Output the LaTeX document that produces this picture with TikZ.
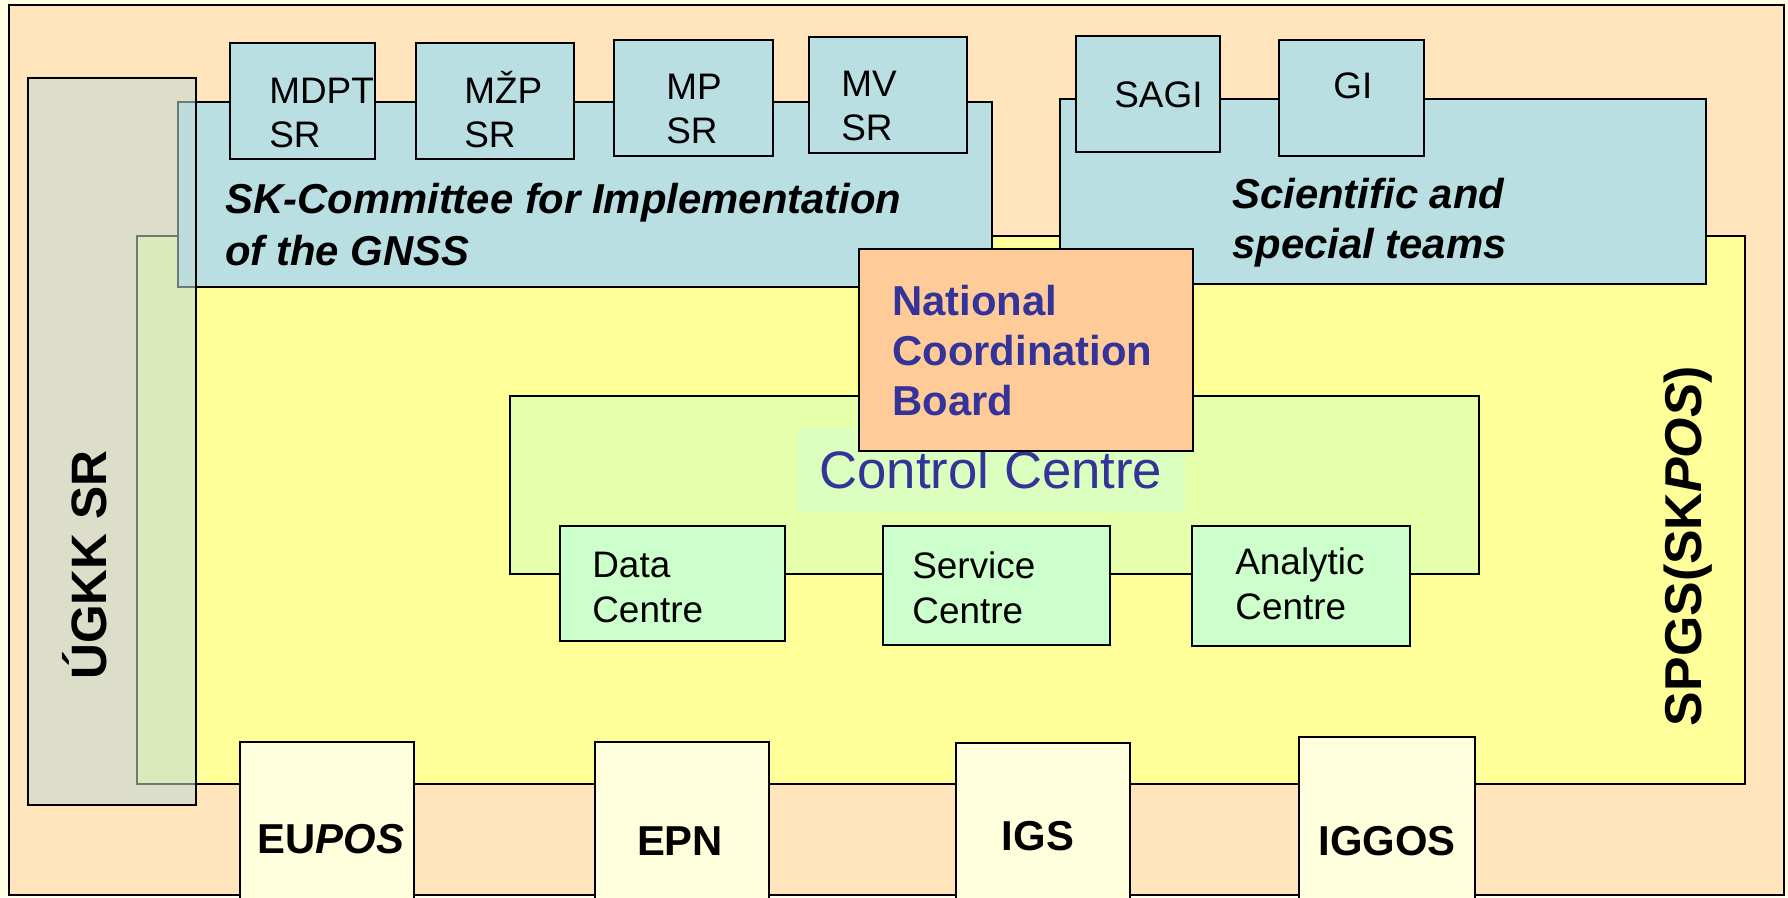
\documentclass[tikz,border=0pt]{standalone}
\usepackage{fontspec}
\setmainfont{Liberation Sans}
\usetikzlibrary{fit}

\definecolor{paper}{RGB}{255,255,226}
\definecolor{peach}{RGB}{255,228,188}
\definecolor{spgsyellow}{RGB}{255,255,153}
\definecolor{commblue}{RGB}{185,223,227}
\definecolor{ncborange}{RGB}{255,204,153}
\definecolor{ctrlgreen}{RGB}{229,255,170}
\definecolor{ctrltag}{RGB}{218,255,190}
\definecolor{centregreen}{RGB}{204,255,204}
\definecolor{extyellow}{RGB}{255,255,221}
\definecolor{ugkkgrey}{RGB}{194,219,214}
\definecolor{navy}{RGB}{51,51,153}

\begin{document}
\begin{tikzpicture}[x=0.02cm,y=-0.02cm]
			\tikzstyle{box}=[draw,line width=1pt,inner sep=0pt]
			\tikzstyle{extbox}=[draw,line width=0.6pt,inner sep=0pt,fill=extyellow]
			\tikzstyle{lbl}=[inner sep=0pt,align=left,anchor=base west]
			\tikzstyle{small}=[lbl,font=\fontsize{21}{25}\selectfont]
			\tikzstyle{title}=[lbl,font=\fontsize{23.8}{29.5}\selectfont\bfseries\itshape]
			\tikzstyle{ext}=[inner sep=0pt,anchor=base,font=\fontsize{23.8}{28}\selectfont\bfseries]
			\useasboundingbox (0,0) rectangle (1788,897);
			\fill[paper] (0,0) rectangle (1788,897);
			% frame and the yellow SPGS field
			\node[box,fill=peach,fit={(9,5) (1784,895)}] (frame) {};
			\node[box,fill=spgsyellow,fit={(137,236) (1745,784)}] (spgs) {};
			% committee and teams (base = last line)
			\node[box,fill=commblue,fit={(178,102) (992,287)}] (committee) {};
			\node[box,fill=commblue,fit={(1060,99) (1706,284)}] (teams) {};
			\node[box,fill=commblue,fit={(230,43) (375,159)}] (mdpt) {};
			\node[box,fill=commblue,fit={(416,43) (574,159)}] (mzp) {};
			\node[box,fill=commblue,fit={(614,40) (773,156)}] (mp) {};
			\node[box,fill=commblue,fit={(809,37) (967,153)}] (mv) {};
			\node[box,fill=commblue,fit={(1076,36) (1220,152)}] (sagi) {};
			\node[box,fill=commblue,fit={(1279,40) (1424,156)}] (gi) {};
			\node[small] (mdpt-t) at (269,147) {MDPT\\SR};
			\node[small] (mzp-t) at (464,147) {MŽP\\SR};
			\node[small] (mp-t) at (666,143) {MP\\SR};
			\node[small] (mv-t) at (841,140) {MV\\SR};
			\node[small] (sagi-t) at (1114,107) {SAGI};
			\node[small] (gi-t) at (1333,98) {GI};
			\node[title] (committee-t) at (225,265) {SK-Committee for Implementation\\of the GNSS};
			\node[title,font=\fontsize{23.8}{28.3}\selectfont\bfseries\itshape] (teams-t) at (1232,258) {Scientific and\\special teams};
			% control centre
			\node[box,fill=ctrlgreen,fit={(510,396) (1479,574)}] (control) {};
			\node[fill=ctrltag,inner sep=0pt,minimum width=7.76cm,minimum height=1.68cm,
				text=navy,font=\fontsize{30}{34}\selectfont] (control-t) at (991,470) {Control Centre};
			\node[box,fill=ncborange,fit={(859,249) (1193,451)}] (ncb) {};
			\node[lbl,text=navy,font=\fontsize{23.8}{28.3}\selectfont\bfseries] (ncb-t) at (892,415) {National\\Coordination\\Board};
			\node[box,fill=centregreen,fit={(560,526) (785,641)}] (data) {};
			\node[box,fill=centregreen,fit={(883,526) (1110,645)}] (service) {};
			\node[box,fill=centregreen,fit={(1192,526) (1410,646)}] (analytic) {};
			\node[small,font=\fontsize{21}{25.5}\selectfont] (data-t) at (592,622) {Data\\Centre};
			\node[small,font=\fontsize{21}{25.5}\selectfont] (service-t) at (912,623) {Service\\Centre};
			\node[small,font=\fontsize{21}{25.5}\selectfont] (analytic-t) at (1235,619) {Analytic\\Centre};
			% outside partners
			\node[extbox,fit={(240,742) (414,905)}] (eupos) {};
			\node[extbox,fit={(595,742) (769,905)}] (epn) {};
			\node[extbox,fit={(956,743) (1130,905)}] (igs) {};
			\node[extbox,fit={(1299,737) (1475,905)}] (iggos) {};
			\node[ext] (eupos-t) at (331,853) {EU\textit{POS}};
			\node[ext] (epn-t) at (680,855) {EPN};
			\node[ext] (igs-t) at (1038,850) {IGS};
			\node[ext] (iggos-t) at (1387,855) {IGGOS};
			% UGKK over everything
			\node[box,fill=ugkkgrey,fill opacity=0.56,fit={(28,78) (196,805)}] (ugkk) {};
			\node[rotate=90,inner sep=0pt,font=\fontsize{28.3}{32}\selectfont\bfseries] (ugkk-t) at (85,565) {ÚGKK SR};
			\node[rotate=90,inner sep=0pt,font=\fontsize{29.5}{33}\selectfont\bfseries] (spgs-t) at (1688,546) {SPGS(SK\textit{POS})};
\end{tikzpicture}
\end{document}
